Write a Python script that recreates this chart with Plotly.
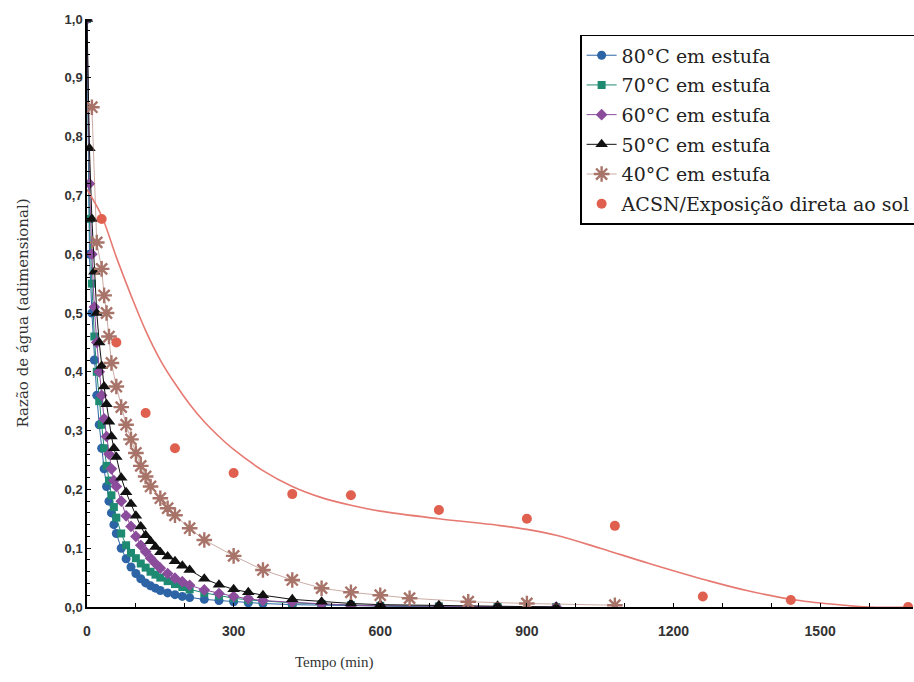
import plotly.graph_objects as go

# ---------------- data ----------------
tempo_estufa = [0, 5, 10, 15, 20, 25, 30, 35, 40, 45, 50, 55, 60, 70, 80, 90, 100, 110, 120,
                130, 140, 150, 165, 180, 195, 210, 240, 270, 300, 330, 360, 420, 480, 540, 600,
                720, 840, 960]

razao_80 = [1.0, 0.60, 0.50, 0.42, 0.36, 0.31, 0.27, 0.235, 0.205, 0.18, 0.16, 0.14, 0.125, 0.10,
            0.082, 0.068, 0.057, 0.048, 0.041, 0.036, 0.032, 0.028, 0.024, 0.021, 0.018, 0.016,
            0.013, 0.011, 0.009, 0.007, 0.006, 0.004, 0.003, 0.002, 0.001, 0.0, 0.0, 0.0]
razao_70 = [1.0, 0.66, 0.55, 0.46, 0.40, 0.35, 0.31, 0.27, 0.24, 0.215, 0.19, 0.17, 0.152, 0.125,
            0.105, 0.092, 0.083, 0.074, 0.067, 0.060, 0.055, 0.050, 0.044, 0.039, 0.034, 0.030,
            0.024, 0.019, 0.015, 0.012, 0.010, 0.007, 0.005, 0.003, 0.002, 0.001, 0.0, 0.0]
razao_60 = [1.0, 0.72, 0.60, 0.51, 0.45, 0.40, 0.36, 0.32, 0.29, 0.26, 0.235, 0.215, 0.205, 0.18,
            0.155, 0.137, 0.120, 0.105, 0.094, 0.083, 0.074, 0.066, 0.057, 0.049, 0.043, 0.037,
            0.029, 0.023, 0.018, 0.014, 0.011, 0.008, 0.005, 0.003, 0.002, 0.001, 0.0, 0.0]
razao_50 = [1.0, 0.78, 0.66, 0.57, 0.50, 0.45, 0.41, 0.375, 0.345, 0.315, 0.29, 0.27, 0.255, 0.22,
            0.195, 0.175, 0.155, 0.137, 0.122, 0.112, 0.102, 0.093, 0.086, 0.078, 0.070, 0.063,
            0.048, 0.038, 0.030, 0.025, 0.020, 0.013, 0.009, 0.006, 0.004, 0.003, 0.002, 0.0]

tempo_40 = [10, 20, 30, 35, 40, 45, 50, 60, 70, 80, 90, 100, 110, 120, 130, 150, 165, 180, 210,
            240, 300, 360, 420, 480, 540, 600, 660, 780, 900, 1080]
razao_40 = [0.85, 0.62, 0.575, 0.53, 0.50, 0.46, 0.415, 0.375, 0.34, 0.31, 0.285, 0.262, 0.24,
            0.222, 0.205, 0.185, 0.168, 0.156, 0.134, 0.114, 0.087, 0.063, 0.046, 0.032, 0.025,
            0.02, 0.015, 0.009, 0.006, 0.003]

tempo_sol = [30, 60, 120, 180, 300, 420, 540, 720, 900, 1080, 1260, 1440, 1680]
razao_sol = [0.66, 0.45, 0.33, 0.27, 0.228, 0.192, 0.19, 0.165, 0.15, 0.138, 0.018, 0.012, 0.0]

tempo_ajuste = [0, 30, 60, 90, 120, 150, 180, 210, 240, 270, 300, 360, 420, 480, 540, 600, 720,
                840, 900, 960, 1050, 1150, 1270, 1350, 1450, 1550, 1600, 1690]
razao_ajuste = [0.71, 0.665, 0.595, 0.53, 0.47, 0.42, 0.38, 0.345, 0.315, 0.29, 0.268, 0.232,
                0.205, 0.186, 0.173, 0.163, 0.15, 0.139, 0.132, 0.122, 0.1, 0.074, 0.045, 0.028,
                0.012, 0.003, 0.0, 0.0]

nomes = ["80°C em estufa", "70°C em estufa", "60°C em estufa", "50°C em estufa",
         "40°C em estufa", "ACSN/Exposição direta ao sol"]

x_ticks = [0, 300, 600, 900, 1200, 1500]

# ---------------- figure ----------------
fig = go.Figure()

estilos = [
    (razao_80, "#2c64a6", "circle", 9),
    (razao_70, "#1e8a72", "square", 8),
    (razao_60, "#8b4c9c", "diamond", 9),
    (razao_50, "#111111", "triangle-up", 11),
]
for i, ((vals, cor, simb, tam), nome) in enumerate(zip(estilos, nomes[:4])):
    fig.add_trace(go.Scatter(
        x=tempo_estufa, y=vals, name=nome, mode="lines+markers", legendgroup=f"g{i}",
        line=dict(color=cor, width=1),
        marker=dict(color=cor, symbol=simb, size=tam),
    ))

fig.add_trace(go.Scatter(
    x=tempo_40, y=razao_40, name=nomes[4], mode="lines+markers", legendgroup="g4",
    line=dict(color="#a8746a", width=0.6),
    marker=dict(color="#a8746a", symbol="asterisk-open", size=13,
                line=dict(color="#a8746a", width=2.4)),
))

fig.add_trace(go.Scatter(
    x=tempo_ajuste, y=razao_ajuste, mode="lines", showlegend=False,
    legendgroup="g5", line=dict(color="#e67a72", width=1.6, shape="spline"),
    hoverinfo="skip",
))
fig.add_trace(go.Scatter(
    x=tempo_sol, y=razao_sol, name=nomes[5], mode="markers", legendgroup="g5",
    marker=dict(color="#e0604f", symbol="circle", size=10),
))

fig.update_layout(
    width=914, height=682,
    margin=dict(l=87, r=1, t=19, b=75, autoexpand=False),
    paper_bgcolor="white", plot_bgcolor="white",
    separators=",.",
    showlegend=True,
    legend=dict(
        x=0.597, y=0.973, xanchor="left", yanchor="top",
        bordercolor="black", borderwidth=1.5, bgcolor="white",
        font=dict(family="DejaVu Serif", size=19, color="#222"),
        traceorder="grouped", tracegroupgap=2, itemwidth=30,
    ),
    xaxis=dict(
        range=[0, 1690], tickvals=x_ticks, ticks="inside", ticklen=4,
        tickcolor="black", showline=True, linecolor="black", linewidth=1.5,
        showgrid=False, zeroline=False, ticklabelstandoff=10,
        tickfont=dict(family="Liberation Sans", size=14, color="#333", weight="bold"),
        minor=dict(dtick=100, ticks="inside", ticklen=4, tickcolor="black"),
    ),
    yaxis=dict(
        range=[0, 1.0], dtick=0.1, tickformat=".1f", ticks="inside", ticklen=4,
        tickcolor="black", showline=True, linecolor="black", linewidth=1.5,
        showgrid=False, zeroline=False,
        tickfont=dict(family="Liberation Sans", size=13, color="#333", weight="bold"),
        minor=dict(dtick=0.02, ticks="inside", ticklen=3, tickcolor="black"),
    ),
    annotations=[
        dict(text="Tempo (min)", xref="paper", yref="paper", x=0.30, y=-0.095,
             showarrow=False, xanchor="center", yanchor="middle",
             font=dict(family="Liberation Serif", size=15, color="#333")),
        dict(text="Razão de água (adimensional)", xref="paper", yref="paper",
             x=-0.078, y=0.5, textangle=-90, showarrow=False,
             xanchor="center", yanchor="middle",
             font=dict(family="DejaVu Serif", size=15, color="#333")),
    ],
)

fig.write_html("out.html")
